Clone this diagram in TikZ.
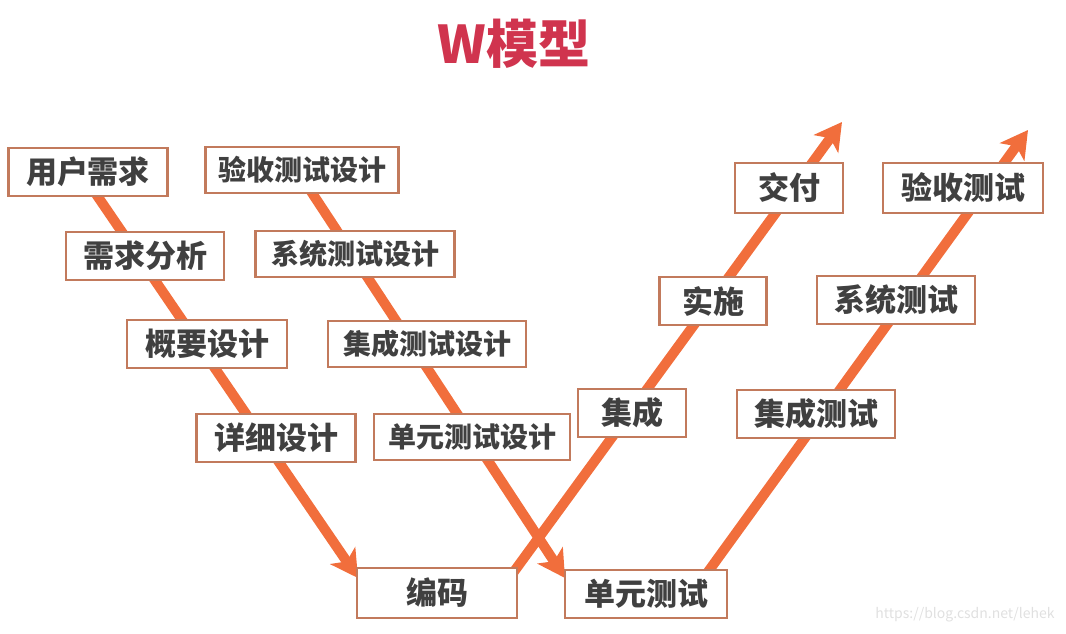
\documentclass[tikz,border=0pt]{standalone}
\usepackage{fontspec}
\setmainfont{Noto Sans CJK SC}
\usepackage{tikz}
\usetikzlibrary{arrows.meta,backgrounds}
\usepackage{xcolor}
\definecolor{wred}{RGB}{208,52,78}
\definecolor{worange}{RGB}{241,110,60}
\definecolor{wedge}{RGB}{194,122,92}
\definecolor{wtext}{RGB}{64,64,64}
\tikzset{wb/.style={draw=wedge,line width=2.5pt,fill=white,text=wtext,font=\fontsize{31}{33}\selectfont\bfseries,minimum height=48pt,minimum width=#1,inner sep=0pt},
  wbl/.style={wb=#1,font=\fontsize{28}{30}\selectfont\bfseries,minimum height=46pt},
  arm/.style={worange,line width=10pt},
  armtip/.style={arm,-{Stealth[length=27pt,width=30pt,inset=7pt]}}}

\begin{document}
\begin{tikzpicture}[x=1pt,y=1pt]
    \useasboundingbox (0,0) rectangle (1066,633);
    \node[text=wred,font=\fontsize{52}{54}\selectfont\bfseries] (title) at (514,589) {W模型};
    \node[wb=159pt] (yhxq) at (88,461) {用户需求};
    \node[wb=158pt] (xqfx) at (145,377) {需求分析};
    \node[wb=160pt] (gysj) at (207,289) {概要设计};
    \node[wb=159pt] (xxsj) at (276,195) {详细设计};
    \node[wb=160pt,minimum height=50pt] (bm) at (437,40) {编码};
    \node[wbl=193pt] (yssj) at (302,463) {验收测试设计};
    \node[wbl=199pt] (xtsj) at (355,379) {系统测试设计};
    \node[wbl=198pt] (jcsj) at (427,289) {集成测试设计};
    \node[wbl=196pt] (dysj) at (472,196) {单元测试设计};
    \node[wb=162pt] (dycs) at (646,39) {单元测试};
    \node[wb=108pt] (jc) at (632,220) {集成};
    \node[wb=107pt] (ss) at (713,332) {实施};
    \node[wb=108pt,minimum height=50pt] (jf) at (789,445) {交付};
    \node[wb=158pt] (jccs) at (816,219) {集成测试};
    \node[wb=158pt] (xtcs) at (896,333) {系统测试};
    \node[wb=160pt,minimum height=50pt] (yscs) at (963,445) {验收测试};
    \node[text=black!12,font=\fontsize{14}{16}\selectfont] (mark) at (965,18) {https://blog.csdn.net/lehek};
    \coordinate (tipa) at (358,55);
    \coordinate (tipb) at (565,55);
    \coordinate (tipc) at (842,511);
    \coordinate (tipd) at (1028,503);
    \begin{scope}[on background layer]
      \draw[armtip] ([xshift=-7pt]yhxq.center) -- (tipa);
      \draw[armtip] ([xshift=-5pt]yssj.center) -- (tipb);
      \draw[armtip] ([xshift=-8pt,yshift=-10pt]bm.north east) -- (tipc);
      \draw[armtip] ([xshift=57pt,yshift=-10pt]dycs.north) -- (tipd);
    \end{scope}
  \end{tikzpicture}
\end{document}
